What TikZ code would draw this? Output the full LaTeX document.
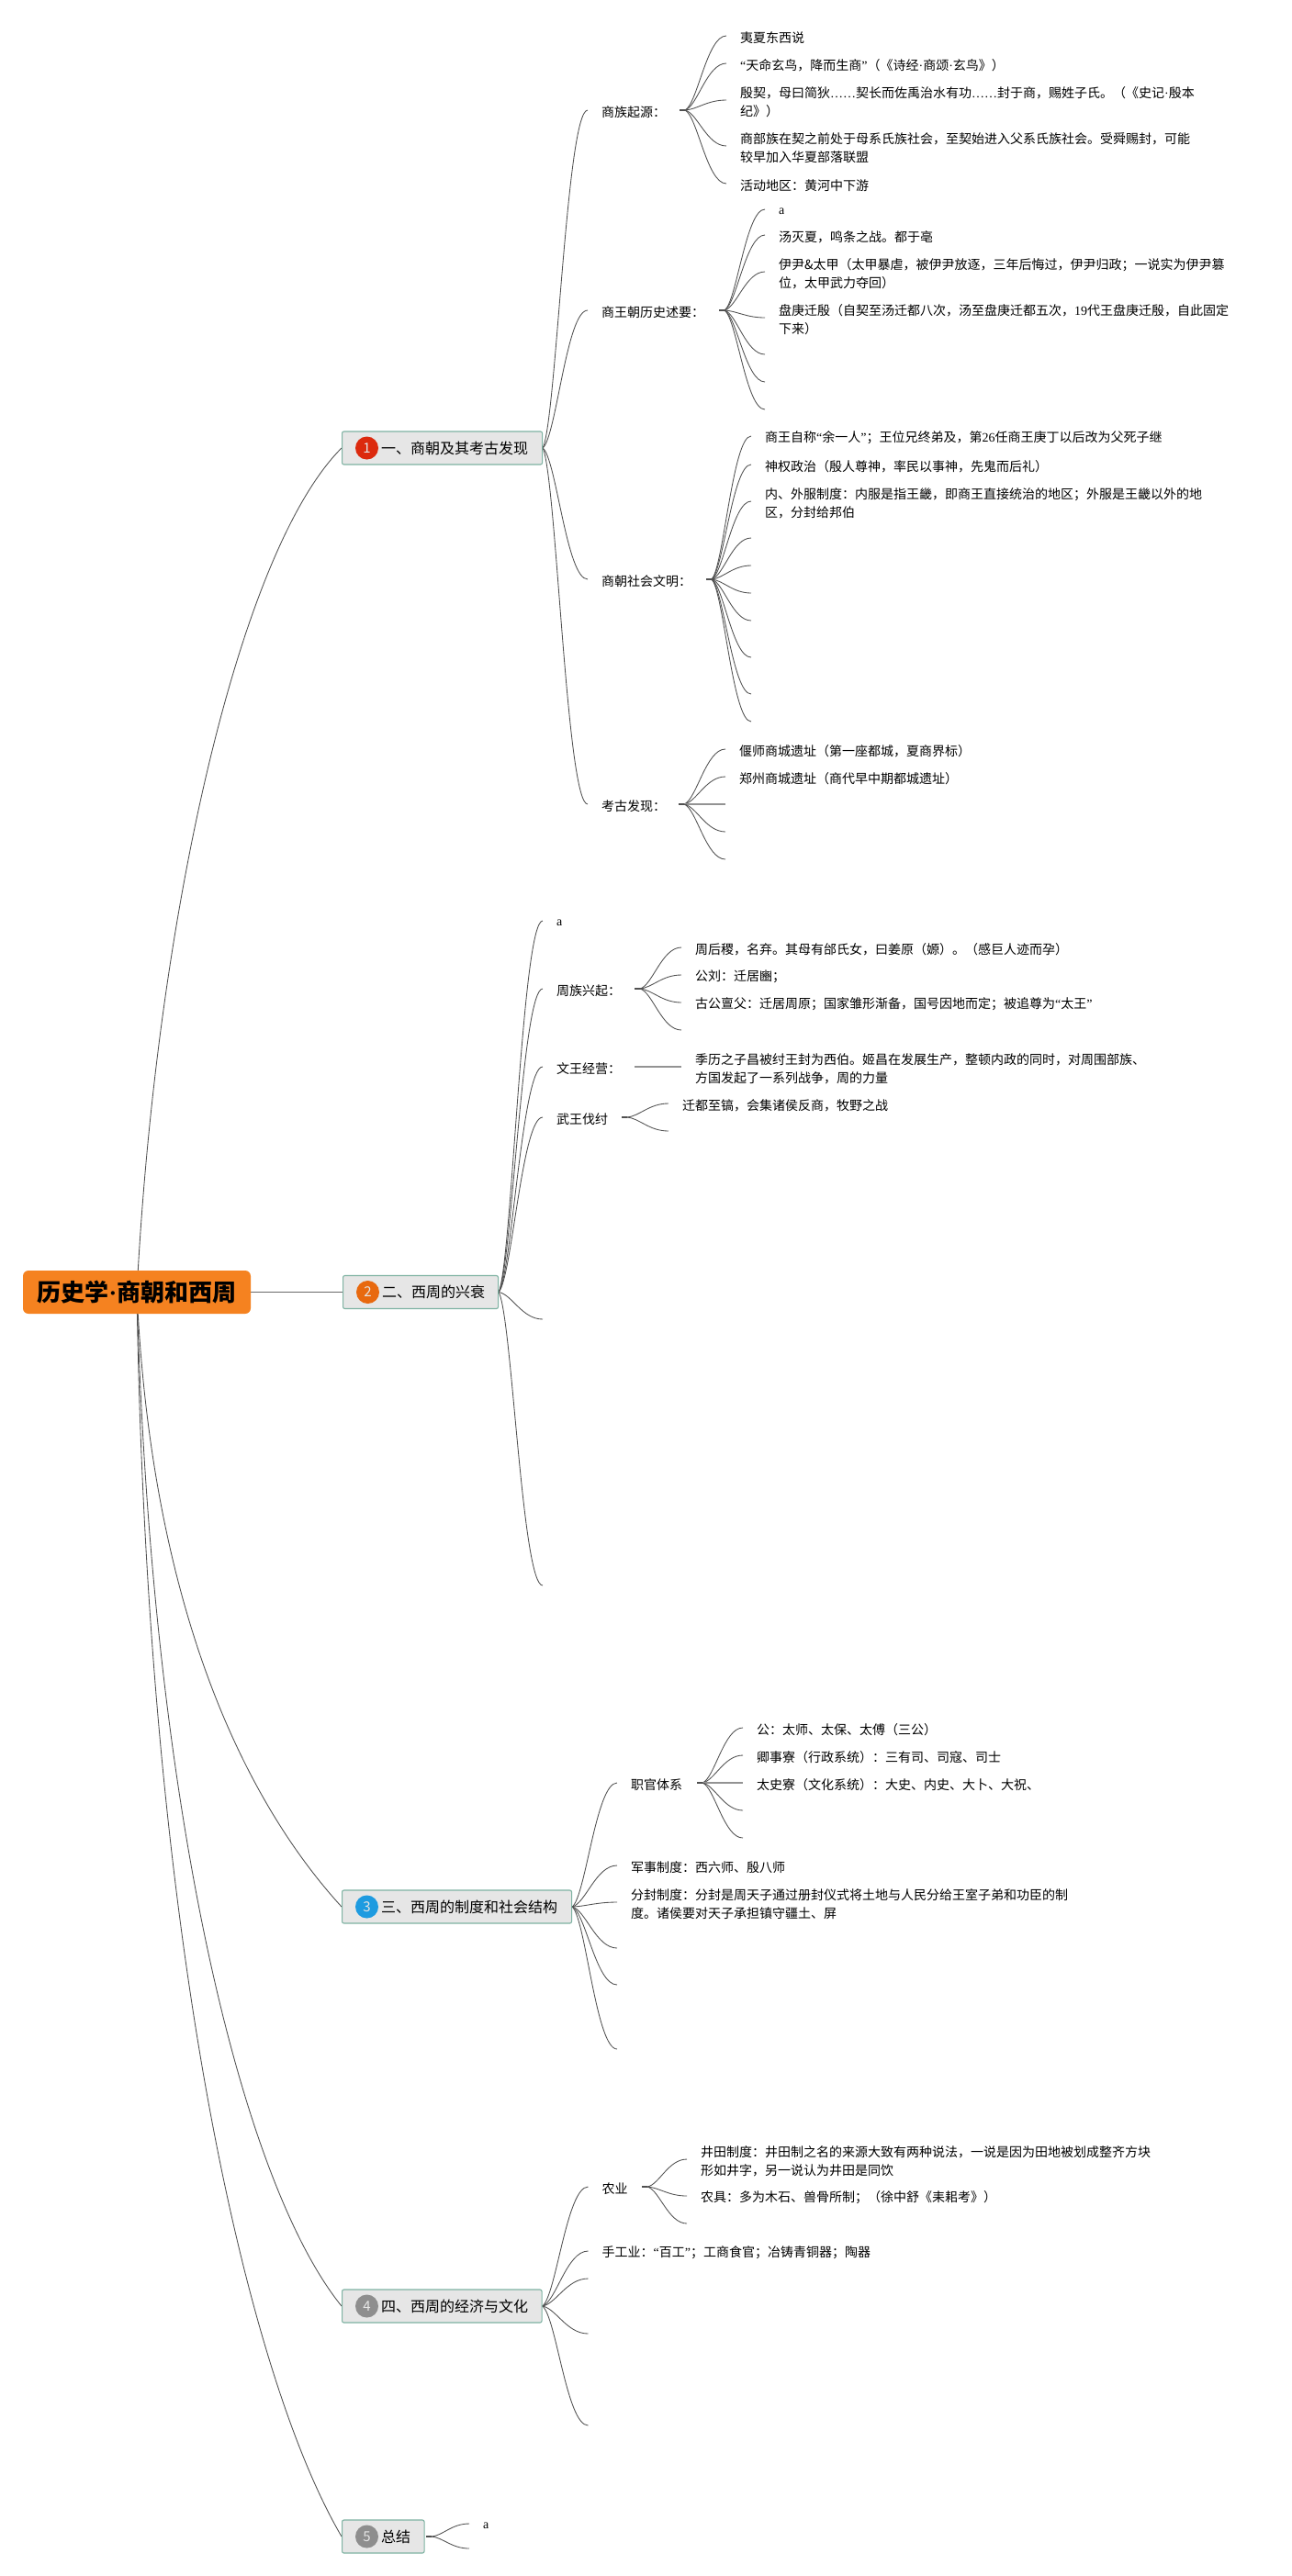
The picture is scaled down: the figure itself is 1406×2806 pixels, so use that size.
\documentclass[tikz,border=0pt]{standalone}
\usepackage{fontspec}
\setmainfont{Noto Sans CJK SC}
\newfontfamily\lat{Liberation Serif}
\usetikzlibrary{calc,backgrounds}
\definecolor{orangeroot}{HTML}{F58220}
\definecolor{topicfill}{HTML}{E6E6E6}
\definecolor{topicline}{HTML}{7FB3A3}
\definecolor{linkc}{HTML}{505050}
\definecolor{bred}{HTML}{DC2A0E}
\definecolor{borange}{HTML}{E8690F}
\definecolor{bblue}{HTML}{1E9BE0}
\definecolor{bgray}{HTML}{8E8E8E}
\newcommand\qL{{\lat “}}
\newcommand\qR{{\lat ”}}
\newcommand\dt{{\lat ·}}
\tikzset{
  rootbox/.style={draw=none,fill=orangeroot,rounded corners=6pt,minimum width=248pt,minimum height=47pt,inner sep=0pt,font=\fontsize{26}{30}\selectfont\bfseries},
  topicbox/.style={draw=topicline,line width=1.1pt,fill=topicfill,rounded corners=2pt,minimum height=36pt,inner sep=0pt,anchor=west},
  badge/.style={circle,minimum size=25pt,inner sep=0pt,text=white!90!black,font=\fontsize{15}{15}\selectfont},
  topictext/.style={anchor=west,inner sep=0pt,font=\fontsize{16}{20}\selectfont},
  leaf/.style={anchor=west,align=left,inner xsep=15pt,inner ysep=0pt,yshift=-2pt,font=\fontsize{14}{20}\selectfont},
  link/.style={draw=linkc,line width=0.85pt},
  straight/.style={draw=gray!85,line width=1.6pt},
  stub/.style={draw=linkc,line width=1.8pt},
}
\newcommand\lnk[2]{\draw[link] let \p1=(#1),\p2=(#2) in (\p1) .. controls ({\x1+0.3*(\x2-\x1)},{\y1+0.08*(\y2-\y1)}) and ({\x2-0.47*(\x2-\x1)},\y2) .. (\p2);}
\newcommand\lk[2]{\lnk{#1}{[yshift=2pt]#2.west}}
\newcommand\hb[3]{\coordinate (#1) at (#2,#3); \draw[stub] (#1) -- +(-6,0);}
\newcommand\tnode[7]{%
  \node[topicbox,minimum width=#4pt] (#1) at (#2,#3) {};
  \node[badge,fill=#5] (#1b) at ($(#1.west)+(27.5pt,0)$) {#6};
  \node[topictext] (#1t) at ($(#1.west)+(43pt,0)$) {#7};}
\begin{document}
\begin{tikzpicture}[x=1pt,y=-1pt]
\useasboundingbox (0,0) rectangle (1406,2806);
% root and main topics
\node[rootbox] (root) at (149,1407.5) {历史学\dt 商朝和西周};
\tnode{n1}{372}{488}{218}{bred}{1}{一、商朝及其考古发现}
\tnode{n2}{373}{1407.5}{169}{borange}{2}{二、西周的兴衰}
\tnode{n3}{372}{2077}{250}{bblue}{3}{三、西周的制度和社会结构}
\tnode{n4}{372}{2512}{217.5}{bgray}{4}{四、西周的经济与文化}
\tnode{n5}{372}{2763}{89.5}{bgray}{5}{总结}
% section 1
\node[leaf] (s1) at (640,120) {商族起源：};
\node[leaf] (s2) at (640,338) {商王朝历史述要：};
\node[leaf] (s3) at (640,631) {商朝社会文明：};
\node[leaf] (s4) at (640,876) {考古发现：};
\node[leaf] (a1) at (791,39) {夷夏东西说};
\node[leaf] (a2) at (791,69) {\qL 天命玄鸟，降而生商\qR（《诗经\dt 商颂\dt 玄鸟》）};
\node[leaf] (a3) at (791,109) {殷契，母曰简狄{\lat ……}契长而佐禹治水有功{\lat ……}封于商，赐姓子氏。（《史记\dt 殷本\\纪》）};
\node[leaf] (a4) at (791,159) {商部族在契之前处于母系氏族社会，至契始进入父系氏族社会。受舜赐封，可能\\较早加入华夏部落联盟};
\node[leaf] (a5) at (791,200) {活动地区：黄河中下游};
\node[leaf] (b1) at (833,228) {\lat a};
\node[leaf] (b2) at (833,256) {汤灭夏，鸣条之战。都于亳};
\node[leaf] (b3) at (833,296) {伊尹\&太甲（太甲暴虐，被伊尹放逐，三年后悔过，伊尹归政；一说实为伊尹篡\\位，太甲武力夺回）};
\node[leaf] (b4) at (833,346) {盘庚迁殷（自契至汤迁都八次，汤至盘庚迁都五次，{\lat 19}代王盘庚迁殷，自此固定\\下来）};
\coordinate (b5) at (833,386); \coordinate (b6) at (833,416); \coordinate (b7) at (833,446);
\node[leaf] (c1) at (818,475) {商王自称\qL 余一人\qR；王位兄终弟及，第{\lat 26}任商王庚丁以后改为父死子继};
\node[leaf] (c2) at (818,506) {神权政治（殷人尊神，率民以事神，先鬼而后礼）};
\node[leaf] (c3) at (818,546) {内、外服制度：内服是指王畿，即商王直接统治的地区；外服是王畿以外的地\\区，分封给邦伯};
\coordinate (c4) at (818,586); \coordinate (c5) at (818,616); \coordinate (c6) at (818,646);
\coordinate (c7) at (818,676); \coordinate (c8) at (818,716); \coordinate (c9) at (818,756); \coordinate (c10) at (818,786);
\node[leaf] (d1) at (790,816) {偃师商城遗址（第一座都城，夏商界标）};
\node[leaf] (d2) at (790,846) {郑州商城遗址（商代早中期都城遗址）};
\coordinate (d3) at (790,876); \coordinate (d4) at (790,906); \coordinate (d5) at (790,936);
% section 2
\node[leaf] (t1) at (591,1003) {\lat a};
\node[leaf] (t2) at (591,1077) {周族兴起：};
\node[leaf] (t3) at (591,1162) {文王经营：};
\node[leaf] (t4) at (591,1217) {武王伐纣};
\coordinate (t5) at (591,1437); \coordinate (t6) at (591,1727);
\node[leaf] (e1) at (742,1032) {周后稷，名弃。其母有邰氏女，曰姜原（嫄）。（感巨人迹而孕）};
\node[leaf] (e2) at (742,1062) {公刘：迁居豳；};
\node[leaf] (e3) at (742,1092) {古公亶父：迁居周原；国家雏形渐备，国号因地而定；被追尊为\qL 太王\qR};
\coordinate (e4) at (742,1122);
\node[leaf] (f1) at (742,1162) {季历之子昌被纣王封为西伯。姬昌在发展生产，整顿内政的同时，对周围部族、\\方国发起了一系列战争，周的力量};
\node[leaf] (g1) at (728,1202) {迁都至镐，会集诸侯反商，牧野之战};
\coordinate (g2) at (728,1232);
% section 3
\node[leaf] (u1) at (672,1942) {职官体系};
\node[leaf] (u2) at (672,2032) {军事制度：西六师、殷八师};
\node[leaf] (u3) at (672,2072) {分封制度：分封是周天子通过册封仪式将土地与人民分给王室子弟和功臣的制\\度。诸侯要对天子承担镇守疆土、屏};
\coordinate (u4) at (672,2122); \coordinate (u5) at (672,2162); \coordinate (u6) at (672,2232);
\node[leaf] (h1n) at (809,1882) {公：太师、太保、太傅（三公）};
\node[leaf] (h2n) at (809,1912) {卿事寮（行政系统）：三有司、司寇、司士};
\node[leaf] (h3n) at (809,1942) {太史寮（文化系统）：大史、内史、大卜、大祝、};
\coordinate (h4n) at (809,1972); \coordinate (h5n) at (809,2002);
% section 4
\node[leaf] (v1) at (640.5,2382) {农业};
\node[leaf] (v2) at (640.5,2452) {手工业：\qL 百工\qR；工商食官；冶铸青铜器；陶器};
\coordinate (v3) at (640.5,2482); \coordinate (v4) at (640.5,2542); \coordinate (v5) at (640.5,2642);
\node[leaf] (k1) at (748,2352) {井田制度：井田制之名的来源大致有两种说法，一说是因为田地被划成整齐方块\\形如井字，另一说认为井田是同饮};
\node[leaf] (k2) at (748,2392) {农具：多为木石、兽骨所制；（徐中舒《耒耜考》）};
\coordinate (k3) at (748,2422);
% section 5
\node[leaf] (w1) at (511,2749) {\lat a};
\coordinate (w2) at (511,2776);
\begin{scope}[on background layer]
\fill[white] (0,0) rectangle (1406,2806);
% root connectors
\draw[link] (root.center) .. controls (170,1000) and (260,600) .. (n1.west);
\draw[draw=linkc!85,line width=1.1pt] (root.east) -- (n2.west);
\draw[link] (root.center) .. controls (165,1750) and (265,1960) .. (n3.west);
\draw[link] (root.center) .. controls (165,1980) and (265,2380) .. (n4.west);
\draw[link] (root.center) .. controls (160,2100) and (265,2580) .. (n5.west);
% hubs
\hb{ha}{746}{120} \hb{hb}{789}{338} \hb{hc}{775}{631} \hb{hd}{745}{876}
\coordinate (hf) at (691,1162);
\hb{he}{697}{1077} \hb{hg}{683}{1217} \hb{hh}{765}{1942}
\hb{hk}{705}{2382} \hb{hw}{470}{2763}
% section 1
\foreach \c in {s1,s2,s3,s4}{\lk{n1.east}{\c}}
\foreach \c in {a1,a2,a3,a4,a5}{\lk{ha}{\c}}
\foreach \c in {b1,b2,b3,b4}{\lk{hb}{\c}}
\foreach \c in {b5,b6,b7}{\lnk{hb}{\c}}
\foreach \c in {c1,c2,c3}{\lk{hc}{\c}}
\foreach \c in {c4,c5,c6,c7,c8,c9,c10}{\lnk{hc}{\c}}
\foreach \c in {d1,d2}{\lk{hd}{\c}}
\draw[straight] (hd) -- (d3);
\foreach \c in {d4,d5}{\lnk{hd}{\c}}
% section 2
\foreach \c in {t1,t2,t3,t4}{\lk{n2.east}{\c}}
\foreach \c in {t5,t6}{\lnk{n2.east}{\c}}
\foreach \c in {e1,e2,e3}{\lk{he}{\c}}
\lnk{he}{e4}
\draw[straight] (hf) -- ([yshift=2pt]f1.west);
\lk{hg}{g1}
\lnk{hg}{g2}
% section 3
\foreach \c in {u1,u2,u3}{\lk{n3.east}{\c}}
\foreach \c in {u4,u5,u6}{\lnk{n3.east}{\c}}
\foreach \c in {h1n,h2n}{\lk{hh}{\c}}
\draw[straight] (hh) -- ([yshift=2pt]h3n.west);
\foreach \c in {h4n,h5n}{\lnk{hh}{\c}}
% section 4
\foreach \c in {v1,v2}{\lk{n4.east}{\c}}
\foreach \c in {v3,v4,v5}{\lnk{n4.east}{\c}}
\foreach \c in {k1,k2}{\lk{hk}{\c}}
\lnk{hk}{k3}
% section 5
\lk{hw}{w1}
\lnk{hw}{w2}
\end{scope}
\end{tikzpicture}
\end{document}
